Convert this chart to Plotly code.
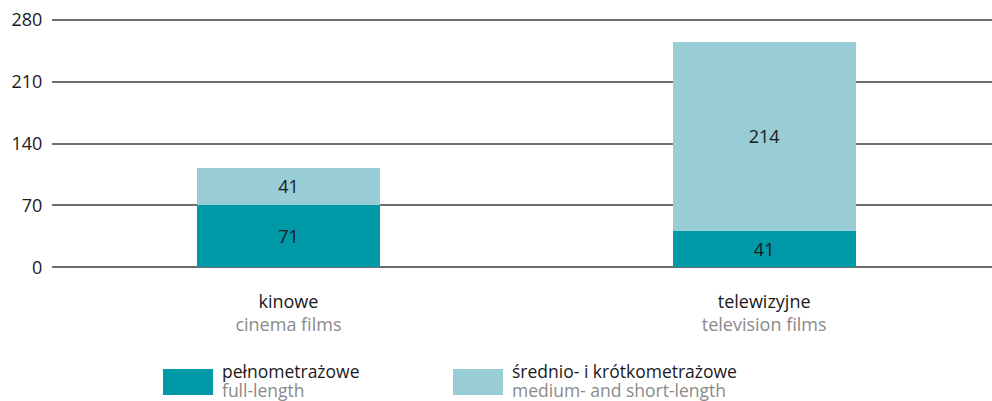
import plotly.graph_objects as go

# Film production by type (counts)
categories_pl = ["kinowe", "telewizyjne"]
categories_en = ["cinema films", "television films"]
series_pl = ["pełnometrażowe", "średnio- i krótkometrażowe"]
series_en = ["full-length", "medium- and short-length"]
full_length = [71, 41]
medium_short = [41, 214]
y_ticks = [0, 70, 140, 210, 280]

colors = ["#0099a8", "#99cdd6"]
font_family = "Open Sans, Lato, sans-serif"
text_dark = "#1a1a1a"
text_grey = "#8a8a8a"

x_pos = list(range(len(categories_pl)))

# plot area geometry (pixels) used for placing the hand-built legend
PLOT_L, PLOT_W = 52, 940
PLOT_BOTTOM, PLOT_H = 270, 253

fig = go.Figure()
for vals, name, col in [(full_length, series_pl[0], colors[0]),
                        (medium_short, series_pl[1], colors[1])]:
    fig.add_trace(go.Bar(
        x=x_pos, y=vals, name=name, width=0.385,
        marker=dict(color=col, line=dict(width=0)),
        text=[str(v) for v in vals], textposition="inside",
        insidetextanchor="middle",
        textfont=dict(family=font_family, size=18, color=text_dark),
        showlegend=False,
    ))

tick_text = [f"{pl}<br><span style='color:{text_grey}'>{en}</span>"
             for pl, en in zip(categories_pl, categories_en)]

fig.update_layout(
    barmode="stack",
    width=992, height=401,
    margin=dict(l=PLOT_L, r=0, t=PLOT_BOTTOM - PLOT_H, b=401 - PLOT_BOTTOM),
    paper_bgcolor="white", plot_bgcolor="white",
    font=dict(family=font_family, size=18, color=text_dark),
    xaxis=dict(
        range=[-0.497, 1.479], tickmode="array", tickvals=x_pos,
        ticktext=tick_text, showgrid=False, zeroline=False,
        ticks="outside", ticklen=15, tickcolor="rgba(0,0,0,0)",
        tickfont=dict(size=18, color=text_dark),
    ),
    yaxis=dict(
        range=[-3, 283], tickvals=y_ticks, showgrid=True,
        gridcolor="#6e6e6e", gridwidth=2, zeroline=False,
        ticks="outside", ticklen=5, tickcolor="rgba(0,0,0,0)",
        tickfont=dict(size=18, color=text_dark),
    ),
    uniformtext=dict(mode="show", minsize=18),
)


def px_x(x):
    return (x - PLOT_L) / PLOT_W


def px_y(y):
    return (PLOT_BOTTOM - y) / PLOT_H


# Legend drawn as swatches plus two-line labels
legend_x = [163, 453]
for i in range(len(series_pl)):
    fig.add_shape(type="rect", xref="paper", yref="paper",
                  x0=px_x(legend_x[i]), x1=px_x(legend_x[i] + 50),
                  y0=px_y(395), y1=px_y(369),
                  fillcolor=colors[i], line=dict(width=0))
    for txt, yc, col in [(series_pl[i], 371, text_dark), (series_en[i], 390, text_grey)]:
        fig.add_annotation(xref="paper", yref="paper",
                           x=px_x(legend_x[i] + 57), y=px_y(yc),
                           xanchor="left", yanchor="middle", showarrow=False,
                           text=txt, font=dict(size=17.5, color=col, family=font_family))

fig.write_html("out.html")
